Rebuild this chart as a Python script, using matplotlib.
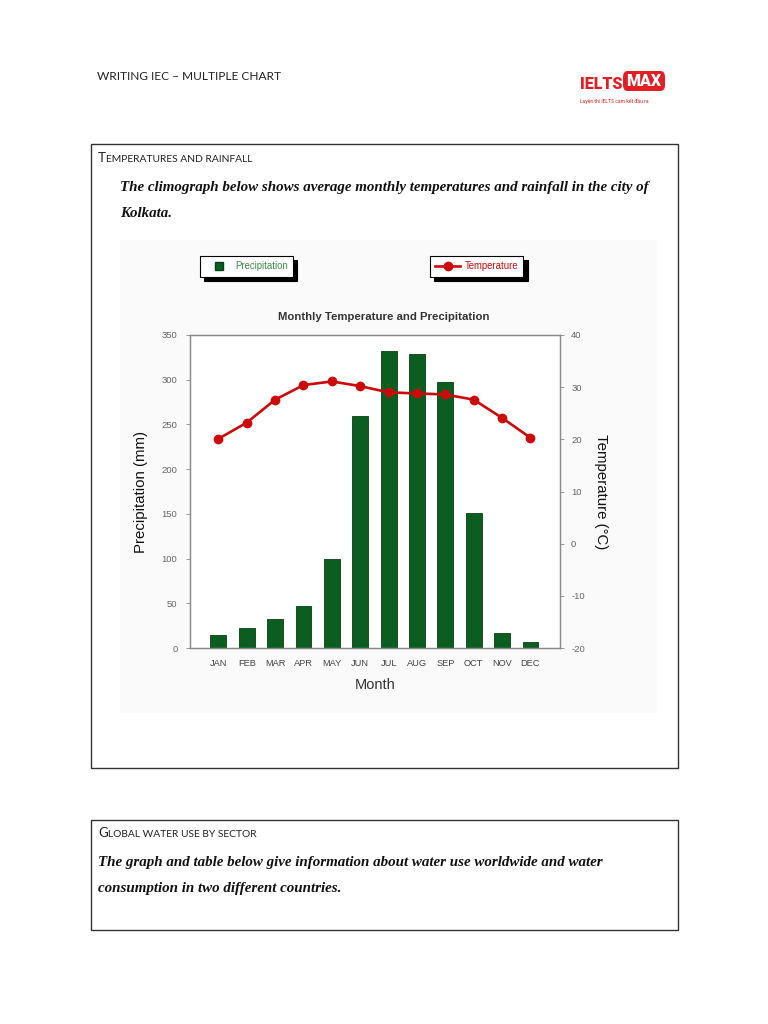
import numpy as np
import matplotlib.pyplot as plt
from matplotlib.patches import Rectangle, FancyBboxPatch
from matplotlib.lines import Line2D


months        = ['JAN', 'FEB', 'MAR', 'APR', 'MAY', 'JUN', 'JUL', 'AUG', 'SEP', 'OCT', 'NOV', 'DEC']
precipitation = [15, 22, 32, 47, 100, 259, 332, 329, 297, 151, 17, 7]      # mm
temperature   = [20.1, 23.2, 27.6, 30.4, 31.1, 30.2, 29.0, 28.8, 28.6, 27.6, 24.1, 20.3]   # deg C
precip_ticks  = [0, 50, 100, 150, 200, 250, 300, 350]
temp_ticks    = [-20, -10, 0, 10, 20, 30, 40]


W, H = 768, 1024
def fx(x):  return x / W
def fy(y):  return 1 - y / H

green = '#0b5e1f'
red   = '#cc0a0a'
plt.rcParams['axes.unicode_minus'] = False


plt.close('all')
fig = plt.figure(figsize=(W/100, H/100), dpi=100)
renderer = fig.canvas.get_renderer()


def smallcaps(x, y, words, big=9.6, small=7.4, color='#222222'):
    # fake small caps: big first capital, smaller caps for the rest
    t = fig.text(fx(x), fy(y), words[0], fontsize=big, family='Lato', color=color, va='baseline')
    x = x + t.get_window_extent(renderer).width
    fig.text(fx(x), fy(y), words[1:].upper(), fontsize=small, family='Lato', color=color, va='baseline')


### page header:
fig.text(fx(97), fy(80), 'WRITING IEC \u2013 MULTIPLE CHART', fontsize=8.6, family='Lato', color='#222222', va='baseline')
fig.text(fx(580), fy(89), 'IELTS', fontsize=11.5, family='Roboto', fontweight='black', color='#e31e24', va='baseline')
fig.patches.append(FancyBboxPatch((fx(623), fy(91)), fx(665)-fx(623), fy(71)-fy(91), boxstyle='round,pad=0,rounding_size=0.006',
                                  transform=fig.transFigure, facecolor='#e31e24', edgecolor='none'))
fig.text(fx(644), fy(81.5), 'MAX', fontsize=11.5, family='Roboto', fontweight='black', color='white', ha='center', va='center')
fig.text(fx(580), fy(103), 'Luy\u1ec7n thi IELTS cam k\u1ebft \u0111\u1ea7u ra', fontsize=3.6, family='Roboto', color='#e31e24', va='baseline')


### boxes:
for (x0, y0, x1, y1) in [(91, 144, 678, 768), (91, 820, 678, 930)]:
    fig.patches.append(Rectangle((fx(x0), fy(y1)), fx(x1)-fx(x0), fy(y0)-fy(y1), transform=fig.transFigure,
                                 facecolor='none', edgecolor='#333333', linewidth=1.0))

smallcaps(98, 162, 'Temperatures and rainfall')
serif = dict(fontsize=10.82, family='Liberation Serif', fontweight='bold', style='italic', color='#111111', va='baseline')
fig.text(fx(120), fy(191), 'The climograph below shows average monthly temperatures and rainfall in the city of', **serif)
fig.text(fx(120), fy(217), 'Kolkata.', **serif)

smallcaps(98, 837, 'Global water use by sector')
fig.text(fx(98), fy(866), 'The graph and table below give information about water use worldwide and water', **serif)
fig.text(fx(98), fy(892), 'consumption in two different countries.', **serif)


### chart image background:
fig.patches.append(Rectangle((fx(120), fy(713)), fx(657)-fx(120), fy(240)-fy(713), transform=fig.transFigure,
                             facecolor='#fafafa', edgecolor='none', zorder=-5))


### plot precipitation bars:
sans = 'Liberation Sans'
ax = fig.add_axes((fx(190), fy(648), fx(560)-fx(190), fy(335)-fy(648)))
ax.set_facecolor('white')
x = np.arange(len(months))
bars = ax.bar(x, precipitation, width=0.56, color=green, edgecolor='#064016', linewidth=0.6)
ax.set_xlim(-1, 12.04)
ax.set_ylim(0, 350)
ax.set_yticks(precip_ticks)
ax.set_xticks(x)
ax.set_xticklabels(months)
ax.tick_params(axis='x', length=0, pad=8, labelsize=6.7, labelcolor='#444444')
ax.tick_params(axis='y', length=3, width=0.6, color='#888888', pad=6, labelsize=6.8, labelcolor='#666666')
for lab in ax.get_xticklabels() + ax.get_yticklabels():
    lab.set_family(sans)
for s in ax.spines.values():
    s.set_color('#8a8a8a')
    s.set_linewidth(0.9)
ax.set_ylabel('Precipitation (mm)', fontsize=10.8, family=sans, color='#111111', labelpad=10)
ax.set_xlabel('Month', fontsize=10.5, family=sans, color='#333333', labelpad=7)
ax.set_title('Monthly Temperature and Precipitation', fontsize=8.2, family=sans, fontweight='bold', color='#333333', pad=11)
ax.title.set_x(0.524)

### plot temperature line:
ax2 = ax.twinx()
line, = ax2.plot(x, temperature, color=red, linewidth=1.9, marker='o', markersize=6,
                 markerfacecolor=red, markeredgecolor=red)
ax2.set_ylim(-20, 40)
ax2.set_yticks(temp_ticks)
ax2.tick_params(axis='y', length=3, width=0.6, color='#888888', pad=5, labelsize=6.8, labelcolor='#666666')
for lab in ax2.get_yticklabels():
    lab.set_family(sans)
for s in ax2.spines.values():
    s.set_color('#8a8a8a')
    s.set_linewidth(0.9)
ax2.set_ylabel('Temperature (\u00b0C)', fontsize=10.8, family=sans, color='#111111', rotation=-90, labelpad=17)

### legends (two separate boxes with drop shadow):
shadow = {'color': 'black', 'alpha': 1.0, 'ox': 3, 'oy': -3}
square = Line2D([], [], marker='s', linestyle='none', markersize=5.5, markerfacecolor=green, markeredgecolor='#064016')
leg1 = fig.legend([square], ['Precipitation'], loc='upper left', bbox_to_anchor=(fx(200), fy(256)),
                  frameon=True, fancybox=False, shadow=shadow, edgecolor='black', framealpha=1.0,
                  borderaxespad=0, borderpad=0.55, handlelength=2.85, handletextpad=0.25,
                  labelcolor='#3c8f46', prop={'family': sans, 'size': 6.9})
leg1.get_frame().set_linewidth(0.8)
leg2 = fig.legend([line], ['Temperature'], loc='upper left', bbox_to_anchor=(fx(430), fy(256)),
                  frameon=True, fancybox=False, shadow=shadow, edgecolor='black', framealpha=1.0,
                  borderaxespad=0, borderpad=0.55, handlelength=2.6, handletextpad=0.45,
                  labelcolor=red, prop={'family': sans, 'size': 6.9})
leg2.get_frame().set_linewidth(0.8)

fig.savefig('out.png', dpi=100)
